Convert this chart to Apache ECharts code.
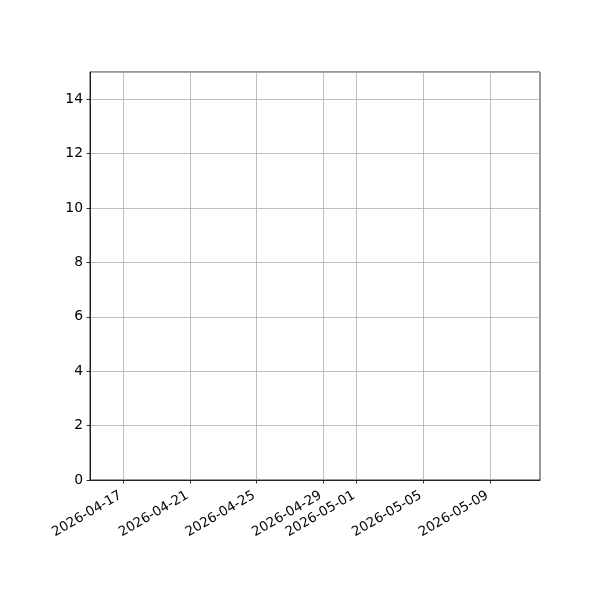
<!DOCTYPE html>
<html>
<head>
<meta charset="utf-8">
<script src="https://cdn.jsdelivr.net/npm/echarts@6/dist/echarts.min.js"></script>
<style>html,body{margin:0;padding:0;background:#fff}#c{width:600px;height:600px}</style>
</head>
<body>
<div id="c"></div>
<script>
var days = ['2026-04-15','2026-04-16','2026-04-17','2026-04-18','2026-04-19','2026-04-20','2026-04-21',
  '2026-04-22','2026-04-23','2026-04-24','2026-04-25','2026-04-26','2026-04-27','2026-04-28','2026-04-29',
  '2026-04-30','2026-05-01','2026-05-02','2026-05-03','2026-05-04','2026-05-05','2026-05-06','2026-05-07',
  '2026-05-08','2026-05-09','2026-05-10','2026-05-11','2026-05-12'];
var tickLabels = ['2026-04-17','2026-04-21','2026-04-25','2026-04-29','2026-05-01','2026-05-05','2026-05-09'];
var seriesValues = [];
var yTicks = [0, 2, 4, 6, 8, 10, 12, 14];

function isTick(idx) { return tickLabels.indexOf(days[idx]) >= 0; }

var chart = echarts.init(document.getElementById('c'), null, {renderer: 'canvas'});
chart.setOption({
  animation: false,
  backgroundColor: '#fff',
  textStyle: {fontFamily: 'DejaVu Sans'},
  grid: {left: 90, right: 60, top: 72, bottom: 120, containLabel: false,
         show: true, borderColor: '#000', borderWidth: 0.8, backgroundColor: 'transparent'},
  xAxis: {
    type: 'category',
    data: days,
    boundaryGap: false,
    axisLine: {show: true, lineStyle: {color: '#000', width: 0.8}},
    axisTick: {show: true, length: 3.5, lineStyle: {color: '#000', width: 0.8},
               interval: function (i) { return isTick(i); }},
    axisLabel: {show: true, rotate: 30, margin: 13, color: '#000', fontSize: 13.4,
                fontFamily: 'DejaVu Sans', padding: [0, 3, 0, 0],
                interval: function (i) { return isTick(i); }},
    splitLine: {show: true, lineStyle: {color: '#b0b0b0', width: 0.8},
                interval: function (i) { return isTick(i); }}
  },
  yAxis: {
    type: 'value',
    min: 0, max: 15, interval: 2,
    axisLine: {show: true, lineStyle: {color: '#000', width: 0.8}},
    axisTick: {show: true, length: 3.5, lineStyle: {color: '#000', width: 0.8}},
    axisLabel: {show: true, margin: 7, color: '#000', fontSize: 13.9, fontFamily: 'DejaVu Sans',
                showMaxLabel: false,
                formatter: function (v) { return yTicks.indexOf(v) >= 0 ? String(v) : ''; }},
    splitLine: {show: true, lineStyle: {color: '#b0b0b0', width: 0.8}}
  },
  series: [{type: 'line', data: seriesValues, showSymbol: false}]
});
</script>
</body>
</html>
